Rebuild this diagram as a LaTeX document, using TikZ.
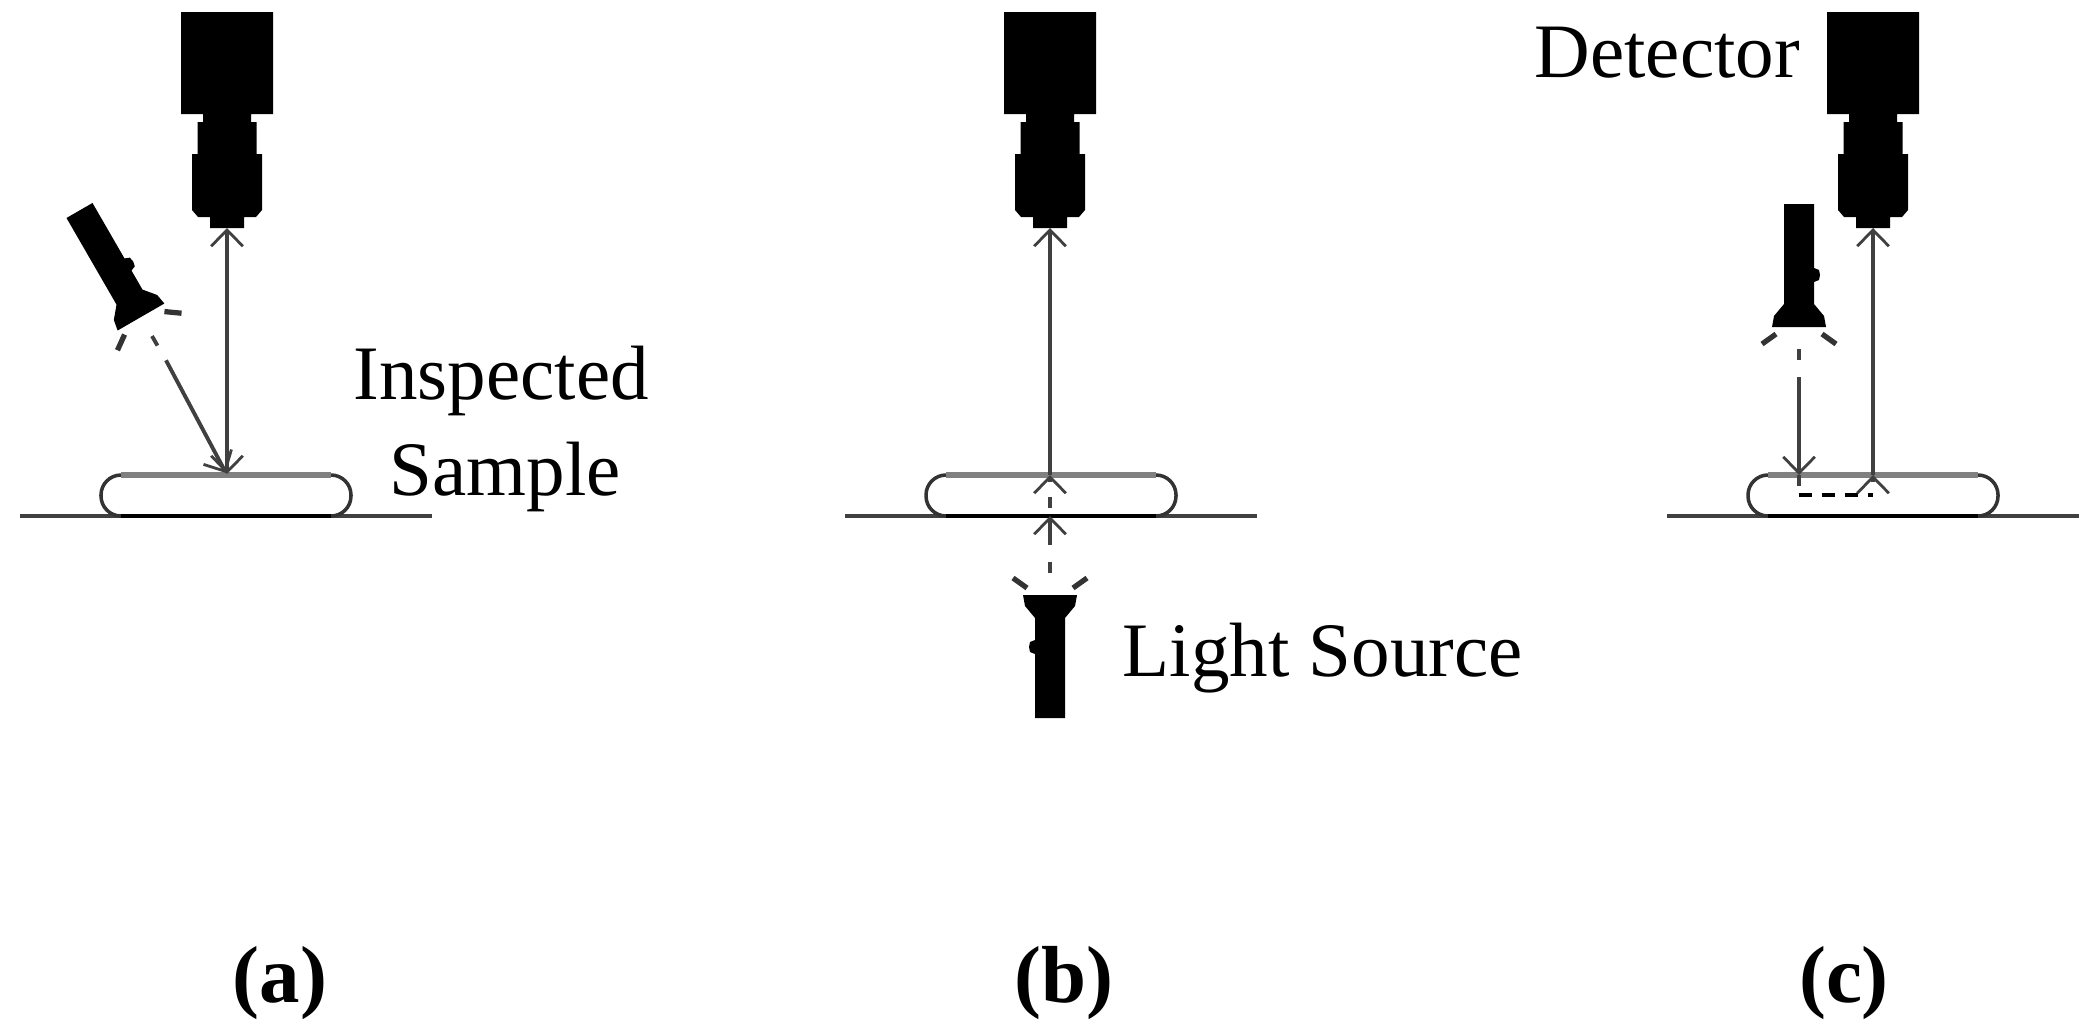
\documentclass[tikz,border=0pt]{standalone}
\usepackage{fontspec}
\setmainfont{Liberation Serif}
\usetikzlibrary{arrows.meta}
\tikzset{
	lbl/.style={inner sep=0pt,anchor=base west,font=\fontsize{21.9}{26}\selectfont},
	panellbl/.style={inner sep=0pt,anchor=base,font=\fontsize{23}{28}\selectfont\bfseries},
	ray/.style={line width=1.1pt,black!75},
	% Camera, origin at the tip of the lens
	camera/.pic={
		\fill (-46,114) rectangle (46,216)
		(-24,105) rectangle (24,115)
		(-29.5,73) rectangle (29.5,106);
		\fill (-35,74) -- (35,74) -- (35,18) -- (29,11) -- (17,11) -- (17,0)
		-- (-17,0) -- (-17,11) -- (-29,11) -- (-35,18) -- cycle;
		\coordinate (-tip) at (0,0);
	},
	% Torch, origin at the middle of the glass, shining downwards
	torch/.pic={
		\fill (-27,0) -- (27,0) -- (25,11) -- (15,23) -- (15,45) -- (20,47)
		-- (21,52) -- (20,57) -- (15,59) -- (15,123) -- (-15,123) -- (-15,23)
		-- (-25,11) -- cycle;
		\draw[line width=1.5pt,black!80] (-37,-17) -- (-23,-7)
		(37,-17) -- (23,-7);
		\draw[ray] (0,-22) -- (0,-33);
		\coordinate (-beam) at (0,-50);
	},
	% Sample lying on the table, origin under its middle
	sample/.pic={
		\draw[line width=1.4pt,black!75] (-206,0) -- (206,0);
		\draw[line width=1pt,black!80,fill=white,rounded corners=0.2cm] (-125,0) rectangle (125,41);
		\draw[line width=1.7pt,black!50] (-105,41) -- (105,41);
		\draw[line width=1.4pt,black] (-105,0) -- (105,0);
	}
}
\begin{document}
\begin{tikzpicture}[
	x=0.01cm,
	y=0.01cm,
	>={Straight Barb[length=4.6pt,width=9pt,line width=0.8pt]}
	]
	\useasboundingbox (0,0) rectangle (2095,1026);
	
	% Hình (a)
	\pic at (226,510) {sample};
	\pic (camA) at (227,798) {camera};
	\pic[rotate=30] (torchA) at (141,709) {torch};
	\coordinate (hitA) at (227,552);
	\coordinate (slantA) at (226,553);
	\draw[ray,<->] (hitA) -- (camA-tip);
	\draw[ray,->] (torchA-beam) -- (slantA);
	\node[lbl] (inspected) at (353,627) {Inspected};
	\node[lbl] (samplelbl) at (389,531) {Sample};
	\node[panellbl] (capA) at (280,24) {(a)};
	
	% Hình (b)
	\pic at (1051,510) {sample};
	\pic (camB) at (1050,798) {camera};
	\pic[rotate=180] (torchB) at (1050,431) {torch};
	\coordinate (floorB) at (1050,510);
	\coordinate (gapB1) at (1050,518);
	\coordinate (gapB2) at (1050,529);
	\coordinate (stubB) at (1050,544);
	\coordinate (hitB) at (1050,551);
	\draw[ray,->] (torchB-beam) -- (floorB);
	\draw[ray] (gapB1) -- (gapB2);
	\draw[ray,->] (stubB) -- (hitB);
	\draw[ray,->] (hitB) -- (camB-tip);
	\node[lbl] (lightsrc) at (1122,350) {Light Source};
	\node[panellbl] (capB) at (1064,24) {(b)};
	
	% Hình (c)
	\pic at (1873,510) {sample};
	\pic (camC) at (1873,798) {camera};
	\pic (torchC) at (1799,699) {torch};
	\coordinate (hitC1) at (1799,551);
	\coordinate (stopC) at (1799,540);
	\coordinate (inC) at (1799,531);
	\coordinate (outC) at (1873,531);
	\coordinate (stubC) at (1873,544);
	\coordinate (hitC2) at (1873,551);
	\draw[ray,->] (torchC-beam) -- (hitC1);
	\draw[ray] (hitC1) -- (stopC);
	\draw[line width=1pt,black,dash pattern=on 3.7pt off 2.8pt] (inC) -- (outC);
	\draw[ray,->] (stubC) -- (hitC2);
	\draw[ray,->] (hitC2) -- (camC-tip);
	\node[lbl] (detector) at (1534,949) {Detector};
	\node[panellbl] (capC) at (1844,24) {(c)};
\end{tikzpicture}
\end{document}
